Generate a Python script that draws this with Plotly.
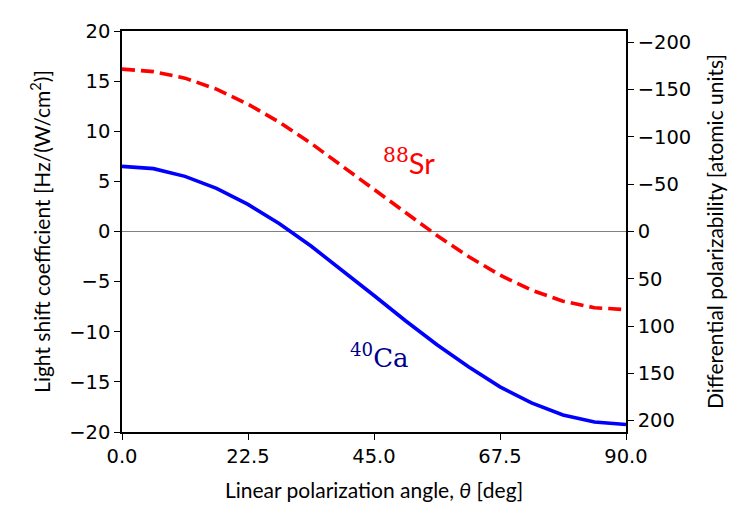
import plotly.graph_objects as go

# Angle samples (deg)
theta = [0, 5.625, 11.25, 16.875, 22.5, 28.125, 33.75, 39.375, 45,
         50.625, 56.25, 61.875, 67.5, 73.125, 78.75, 84.375, 90]
# Light shift coefficients [Hz/(W/cm^2)]
sr88 = [16.2, 15.95, 15.3, 14.2, 12.7, 10.9, 8.8, 6.55, 4.2,
        1.9, -0.4, -2.5, -4.35, -5.85, -6.95, -7.6, -7.8]
ca40 = [6.5, 6.27, 5.5, 4.3, 2.7, 0.78, -1.45, -3.86, -6.38,
        -8.9, -11.3, -13.5, -15.5, -17.1, -18.3, -19.0, -19.25]

x_ticks = [0.0, 22.5, 45.0, 67.5, 90.0]
x_ticklabels = ["0.0", "22.5", "45.0", "67.5", "90.0"]
y_ticks = [-20, -15, -10, -5, 0, 5, 10, 15, 20]
y2_ticks = [-200, -150, -100, -50, 0, 50, 100, 150, 200]

TICKFONT = dict(family="DejaVu Sans", size=19.5, color="black")
LABFONT = dict(family="Lato", size=21, color="black")

fig = go.Figure()
fig.add_trace(go.Scatter(x=theta, y=sr88, mode="lines",
                         line=dict(color="#ff0000", width=3.6, dash="13px,6px"),
                         showlegend=False))
fig.add_trace(go.Scatter(x=theta, y=ca40, mode="lines",
                         line=dict(color="#0000ff", width=3.6),
                         showlegend=False))
# invisible trace to activate right axis
fig.add_trace(go.Scatter(x=[0], y=[0], yaxis="y2", mode="markers",
                         marker=dict(opacity=0), showlegend=False, hoverinfo="skip"))

fig.add_annotation(x=51.2, y=7.0,
                   text="<sup><span style='font-family:DejaVu Serif'>88</span></sup>Sr",
                   showarrow=False,
                   font=dict(family="Lato", size=29, color="#ff0000"))
fig.add_annotation(x=46.0, y=-12.4, text="<sup>40</sup>Ca", showarrow=False,
                   font=dict(family="DejaVu Serif", size=26, color="#00008b"))

fig.update_layout(
    width=750, height=525,
    margin=dict(l=122, r=124, t=31, b=93),
    paper_bgcolor="white", plot_bgcolor="white",
    xaxis=dict(range=[0, 90], tickvals=x_ticks, ticktext=x_ticklabels,
               showline=True, linecolor="black", linewidth=1.6, mirror=True,
               ticks="outside", ticklen=6, tickwidth=1.4, tickcolor="black",
               showgrid=False, zeroline=False, tickfont=TICKFONT,
               title=dict(text="Linear polarization angle, <i>θ</i> [deg]",
                          font=LABFONT, standoff=16)),
    yaxis=dict(range=[-20, 20], tickvals=y_ticks,
               ticktext=[("−" + str(-v)) if v < 0 else str(v) for v in y_ticks],
               showline=True, linecolor="black", linewidth=1.6,
               ticks="outside", ticklen=6, tickwidth=1.4, tickcolor="black",
               showgrid=False, zeroline=True, zerolinecolor="#808080", zerolinewidth=1.3,
               tickfont=TICKFONT,
               title=dict(text="Light shift coefficient [Hz/(W/cm<sup>2</sup>)]",
                          font=LABFONT, standoff=13)),
    yaxis2=dict(range=[212, -212], overlaying="y", side="right", tickvals=y2_ticks,
                ticktext=[("−" + str(-v)) if v < 0 else str(v) for v in y2_ticks],
                showline=True, linecolor="black", linewidth=1.6,
                ticks="outside", ticklen=6, tickwidth=1.4, tickcolor="black",
                showgrid=False, zeroline=False, tickfont=TICKFONT,
                title=dict(text="Differential polarizability [atomic units]",
                           font=LABFONT, standoff=18)),
)

fig.write_html("out.html")
